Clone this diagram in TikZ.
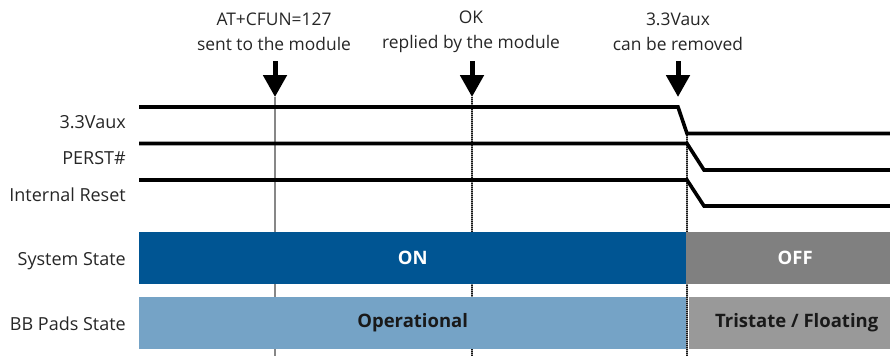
\documentclass[tikz,border=0pt]{standalone}
\usepackage{fontspec}
\setmainfont{Open Sans}
\usetikzlibrary{arrows.meta}
\definecolor{onblue}{RGB}{0,85,147}
\definecolor{opblue}{RGB}{117,163,198}
\definecolor{offgray}{RGB}{128,128,128}
\definecolor{trigray}{RGB}{153,153,153}
\definecolor{vgray}{RGB}{135,135,135}
\tikzset{
  lbl/.style={anchor=east, font=\fontsize{18}{20}\selectfont, text=black!85, inner sep=0pt},
  toplbl/.style={align=center, font=\fontsize{17.4}{25}\selectfont, text=black!85, inner sep=0pt},
  sig/.style={line width=3.6pt, line join=miter},
  evarrow/.style={line width=5pt, -{Triangle[width=23pt,length=22pt]}},
  solidv/.style={vgray, line width=2.4pt},
  dotbase/.style={black!45, line width=2.2pt},
  dotv/.style={black!90, line width=2.2pt, dash pattern=on 1pt off 1pt},
  statebox/.style={minimum height=52pt, inner sep=0pt, font=\fontsize{18.5}{20}\selectfont\bfseries},
}
\begin{document}
\begin{tikzpicture}[x=1pt,y=-1pt]
\useasboundingbox (0,0) rectangle (890,356);
% event labels
\node[toplbl] (t1) at (274,32) {AT+CFUN=127\\sent to the module};
\node[toplbl] (t2) at (471,32) {OK\\replied by the module};
\node[toplbl] (t3) at (678,32) {3.3Vaux\\can be removed};
% event coordinates
\coordinate (a1s) at (275,61); \coordinate (a1e) at (275,97);
\coordinate (a2s) at (472,61); \coordinate (a2e) at (472,97);
\coordinate (a3s) at (678,61); \coordinate (a3e) at (678,97);
\coordinate (v1b) at (275,356);
\coordinate (v2b) at (472,356);
\coordinate (v3t) at (687,133); \coordinate (v3b) at (687,356);
% vertical markers
\draw[solidv] (a1e) -- (v1b);
\draw[dotbase] (a2e) -- (v2b);
\draw[dotv] (a2e) -- (v2b);
\draw[dotbase] (v3t) -- (v3b);
\draw[dotv] (v3t) -- (v3b);
% arrows
\draw[evarrow] (a1s) -- (a1e);
\draw[evarrow] (a2s) -- (a2e);
\draw[evarrow] (a3s) -- (a3e);
% signals
\draw[sig] (139,107) -- (678,107) -- (687,133.5) -- (890,133.5);
\draw[sig] (139,143.5) -- (687,143.5) -- (704,170) -- (890,170);
\draw[sig] (139,180) -- (687,180) -- (704,206) -- (890,206);
% signal labels
\node[lbl] (l1) at (126,122) {3.3Vaux};
\node[lbl] (l2) at (126,158) {PERST\#};
\node[lbl] (l3) at (126,195) {Internal Reset};
\node[lbl] (l4) at (126,261) {System State};
\node[lbl] (l5) at (126,324) {BB Pads State};
% state boxes
\node[statebox, fill=onblue, text=white, minimum width=547pt, anchor=north west] (on) at (139,232) {ON};
\node[statebox, fill=offgray, text=white, minimum width=218pt, anchor=north west] (off) at (686,232) {OFF};
\node[statebox, fill=opblue, text=black!90, minimum width=547pt, anchor=north west] (op) at (139,296.5) {Operational};
\node[statebox, fill=trigray, text=black!90, minimum width=215pt, anchor=north west] (tri) at (689,296.5) {Tristate / Floating};
\end{tikzpicture}
\end{document}
